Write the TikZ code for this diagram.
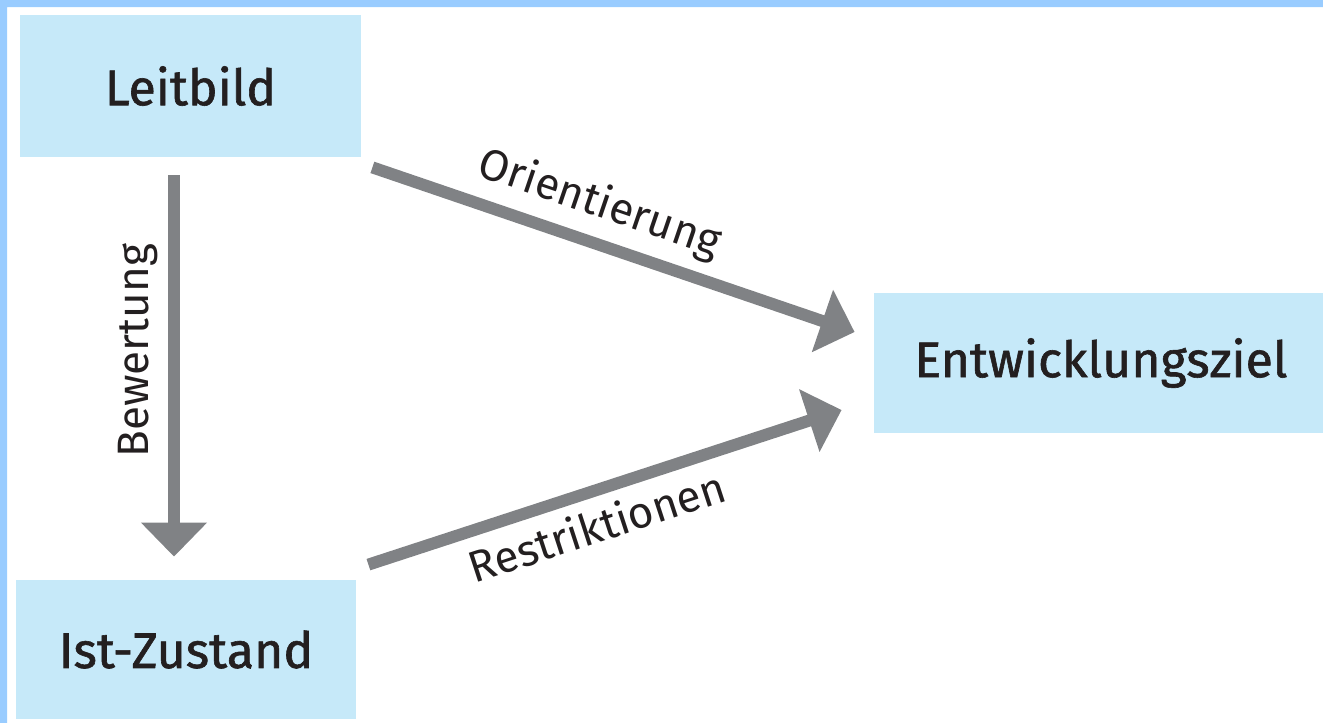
\documentclass[tikz,border=0pt]{standalone}
\usepackage{fontspec}
\setmainfont{Fira Sans}[BoldFont={Fira Sans},BoldFeatures={FakeBold=1.2}]
\usepackage{tikz}
\usepackage{xcolor}
\usetikzlibrary{arrows.meta}
\definecolor{boxblue}{HTML}{C6E9F9}
\definecolor{framblue}{HTML}{99CCFF}
\definecolor{pfeilgrau}{HTML}{808285}
\definecolor{schrift}{HTML}{231F20}

\begin{document}
\begin{tikzpicture}[x=0.5pt,y=-0.5pt,>={Triangle[length=17pt,width=32pt]},
    feld/.style={fill=boxblue,inner sep=0pt,text=schrift,font=\fontsize{25}{30}\selectfont\bfseries},
    pfeil/.style={->,pfeilgrau,line width=6pt},
    beschr/.style={text=schrift,font=\fontsize{22}{26}\selectfont}]
    \useasboundingbox (0,0) rectangle (1323,723);
    \clip (0,0) rectangle (1323,723);
    \fill[framblue] (0,0) rectangle (1323,7) (0,0) rectangle (7,723);
    \node[feld,minimum width=170.5pt,minimum height=71pt] (leitbild) at (190.5,86) {Leitbild};
    \node[feld,minimum width=170pt,minimum height=69.5pt] (ist) at (186,649.5) {Ist-Zustand};
    \node[feld,minimum width=227pt,minimum height=70pt] (ziel) at (1101,363) {Entwicklungsziel};
    \draw[pfeil] ([xshift=-8.25pt,yshift=-9pt]leitbild.south) -- ([xshift=-6pt,yshift=11.5pt]ist.north)
        node[beschr,pos=0.46,rotate=90,anchor=south,inner sep=5pt]{Bewertung};
    \draw[pfeil] ([xshift=5.5pt,yshift=-5pt]leitbild.south east) -- ([xshift=-9.5pt,yshift=15.5pt]ziel.west)
        node[beschr,pos=0.445,sloped,above=2pt]{Orientierung};
    \draw[pfeil] ([xshift=6pt,yshift=7.5pt]ist.north east) -- ([xshift=-16pt,yshift=-23.5pt]ziel.west)
        node[beschr,pos=0.46,sloped,below=2pt]{Restriktionen};
\end{tikzpicture}
\end{document}
